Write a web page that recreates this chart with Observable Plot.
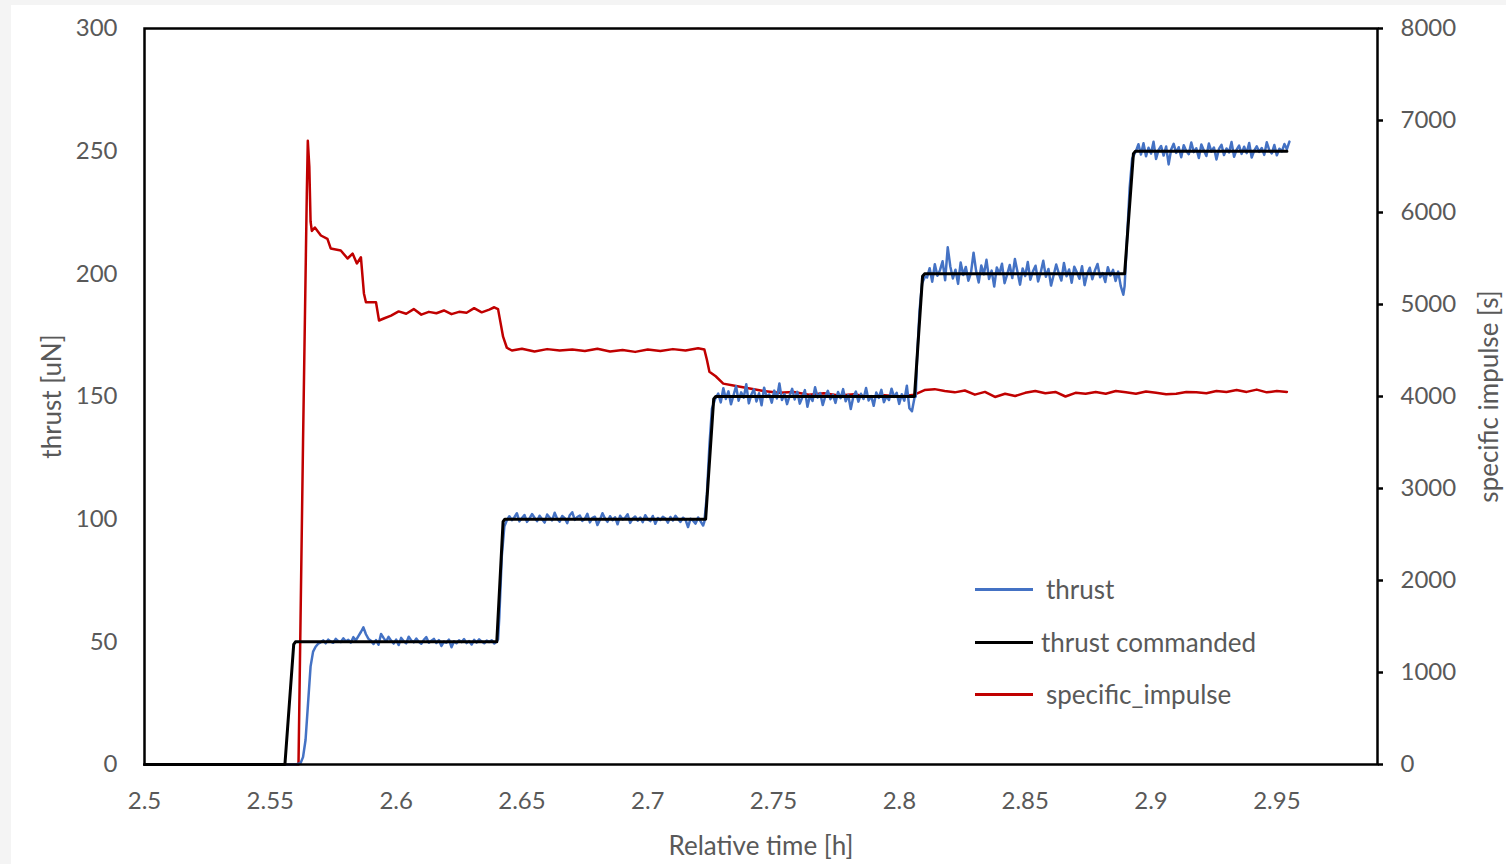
<!DOCTYPE html>
<html>
<head>
<meta charset="utf-8">
<script src="https://cdn.jsdelivr.net/npm/d3@7"></script>
<script src="https://cdn.jsdelivr.net/npm/@observablehq/plot@0.6"></script>
<style>
  html, body { margin: 0; padding: 0; background: #f4f4f4; width: 1506px; height: 864px; overflow: hidden; }
  #card { position: absolute; left: 11px; top: 5px; width: 1495px; height: 859px; background: #fff; }
  #legend { position: absolute; left: 0; top: 0; font-family: Lato, "Open Sans", sans-serif; font-size: 26px; color: #595959; }
  .item { position: absolute; display: flex; align-items: center; white-space: nowrap; }
  .item .sw { width: 58px; height: 3px; flex: none; }
</style>
</head>
<body>
<div id="card"></div>
<script>
// ---------- data ----------
const xTicks = [2.5, 2.55, 2.6, 2.65, 2.7, 2.75, 2.8, 2.85, 2.9, 2.95];
const yTicksLeft = [0, 50, 100, 150, 200, 250, 300];
const yTicksRight = [0, 1000, 2000, 3000, 4000, 5000, 6000, 7000, 8000];
const seriesNames = ["thrust", "thrust commanded", "specific_impulse"];
const seriesColors = ["#4472c4", "#000000", "#c00000"];

// thrust commanded (step profile)
const commandT = [2.5, 2.5558, 2.5593, 2.5600, 2.6400, 2.6425, 2.6432, 2.7230, 2.7262, 2.7270, 2.8060, 2.8092, 2.8100, 2.8895, 2.8930, 2.8938, 2.954];
const commandV = [0, 0, 49, 50, 50, 99, 100, 100, 149, 150, 150, 199, 200, 200, 249, 250, 250];

// measured thrust: ramps (explicit times)
const thrustRampT = [2.5, 2.560, 2.562, 2.563, 2.564, 2.565, 2.566, 2.567,
  2.6405, 2.641, 2.642, 2.643, 2.644,
  2.7225, 2.7235, 2.7245, 2.7255, 2.7268,
  2.8065, 2.807, 2.808, 2.809, 2.8102,
  2.8895, 2.8905, 2.8915, 2.8925, 2.894];
const thrustRampV = [0, 0, 0.5, 3, 10, 25, 40, 46,
  51, 60, 85, 97, 99.5,
  99, 110, 130, 145, 149,
  150, 165, 185, 196, 199,
  195, 215, 235, 247, 250];
// measured thrust: plateaus, evenly sampled between start and end time
const plateauStart = [2.568, 2.645, 2.728, 2.811, 2.895];
const plateauEnd = [2.640, 2.722, 2.806, 2.889, 2.955];
const thrustP1 = [48.0, 49.2, 49.8, 50.6, 49.4, 50.9, 50.1, 49.6, 51.2, 50.3, 49.9, 51.4, 50.2, 50.8, 49.7, 51.9, 50.6, 52.3, 54.0, 55.9, 53.1, 51.2, 50.4, 49.1, 50.7, 48.8, 53.2, 51.6, 50.1, 52.0, 50.5, 49.3, 50.9, 48.7, 51.6, 50.2, 49.4, 52.1, 50.6, 49.8, 51.3, 50.0, 49.2, 50.8, 51.9, 49.6, 50.4, 51.2, 49.5, 50.7, 48.3, 50.1, 49.6, 50.9, 47.8, 50.2, 49.4, 50.6, 49.9, 51.1, 49.5, 50.3, 48.9, 50.8, 49.7, 51.0, 50.1, 49.4, 50.5, 49.9, 50.6, 49.3, 50.2];
const thrustP2 = [101.2, 99.6, 100.8, 102.4, 99.1, 100.5, 101.7, 98.9, 100.3, 102.1, 100.6, 99.2, 101.4, 100.0, 98.6, 101.9, 100.7, 99.5, 102.6, 100.2, 99.0, 101.3, 100.4, 98.4, 101.6, 102.8, 99.7, 100.9, 101.5, 99.3, 100.1, 102.2, 98.7, 100.5, 101.0, 97.6, 99.8, 102.4, 100.3, 98.9, 101.2, 99.6, 100.8, 97.9, 101.4, 99.9, 100.6, 102.0, 98.5, 100.2, 101.1, 99.4, 100.7, 98.8, 101.6, 100.0, 99.2, 101.3, 98.1, 100.5, 99.7, 101.0, 100.3, 98.6, 100.9, 99.5, 101.4, 100.1, 98.9, 100.6, 99.8, 96.8, 100.2, 99.4, 98.2, 100.7, 99.1, 97.4];
const thrustP3 = [151.2, 147.6, 153.4, 149.0, 152.1, 146.8, 150.5, 154.2, 148.3, 151.7, 149.5, 155.0, 147.2, 150.8, 152.9, 148.0, 151.3, 146.4, 153.6, 149.8, 150.9, 147.5, 152.4, 149.2, 155.3, 148.6, 151.0, 146.9, 150.3, 153.1, 148.8, 151.9, 147.1, 149.7, 152.6, 145.8, 150.4, 148.2, 153.8, 149.6, 151.4, 146.5, 150.0, 152.3, 148.9, 150.7, 147.4, 151.8, 149.3, 153.0, 148.1, 150.6, 144.9, 149.9, 152.0, 147.9, 151.1, 149.0, 153.5, 148.4, 150.2, 146.2, 151.6, 149.4, 152.7, 147.7, 150.1, 148.6, 153.2, 149.8, 151.5, 147.0, 150.9, 148.3, 154.4, 145.2, 144.0, 149.5];
const thrustP4 = [198.5, 202.3, 196.8, 203.9, 199.2, 201.5, 205.1, 197.4, 210.8, 203.0, 198.1, 201.7, 195.9, 204.6, 199.5, 202.8, 197.2, 200.4, 208.6, 201.1, 196.5, 203.4, 199.8, 205.7, 197.9, 201.3, 194.8, 202.6, 200.0, 204.1, 196.2, 199.7, 203.6, 198.3, 206.0, 200.8, 195.6, 202.2, 199.1, 204.8, 197.6, 201.0, 203.3, 196.9, 200.5, 205.3, 198.8, 202.0, 195.2, 199.4, 203.8, 200.2, 197.3, 204.4, 199.0, 201.8, 196.4, 202.9, 200.6, 198.0, 203.1, 195.4, 199.9, 202.5, 197.8, 201.4, 204.0, 198.6, 200.3, 196.7, 202.7, 199.3, 201.6, 197.1, 200.9, 195.0, 191.5];
const thrustP5 = [252.8, 248.6, 253.2, 247.9, 251.4, 249.0, 253.8, 246.8, 250.5, 252.1, 248.2, 251.9, 244.6, 250.7, 253.0, 249.3, 251.6, 247.5, 252.4, 250.1, 248.8, 253.5, 249.6, 251.2, 247.2, 252.7, 250.3, 248.0, 253.1, 249.8, 251.5, 246.6, 250.9, 252.6, 248.4, 251.1, 249.5, 253.7, 247.7, 250.6, 252.3, 248.9, 251.8, 249.2, 253.3, 247.4, 250.2, 252.0, 249.7, 251.3, 248.5, 253.6, 250.4, 249.1, 252.5, 248.3, 251.0, 249.9, 252.9, 250.8, 253.9];

// specific impulse
const ispT = [2.5, 2.5612, 2.5630, 2.5645, 2.5649, 2.5655, 2.5660, 2.5665,
  2.5677, 2.5701, 2.5727, 2.5740, 2.5780, 2.5807, 2.5827, 2.5844, 2.5860, 2.5872, 2.5880, 2.5920, 2.5932, 2.5951,
  2.598, 2.601, 2.604, 2.607, 2.610, 2.613, 2.616, 2.619, 2.622, 2.625, 2.628, 2.631, 2.634, 2.637, 2.639, 2.6405, 2.6415, 2.6425, 2.644, 2.646,
  2.650, 2.655, 2.660, 2.665, 2.670, 2.675, 2.680, 2.685, 2.690, 2.695, 2.700, 2.705, 2.710, 2.715, 2.720, 2.7225, 2.7235, 2.7245, 2.727, 2.730, 2.734, 2.740, 2.746, 2.752, 2.758, 2.764, 2.770, 2.776, 2.782, 2.788, 2.794, 2.800, 2.806,
  2.810, 2.814, 2.818, 2.822, 2.826, 2.830, 2.834, 2.838, 2.842, 2.846, 2.850, 2.854, 2.858, 2.862, 2.866, 2.870, 2.874, 2.878, 2.882, 2.886, 2.890, 2.894, 2.898, 2.902, 2.906, 2.910, 2.914, 2.918, 2.922, 2.926, 2.930, 2.934, 2.938, 2.942, 2.946, 2.950, 2.954];
const ispV = [0, 0, 3500, 6200, 6780, 6500, 5900, 5800,
  5837, 5750, 5714, 5609, 5587, 5500, 5554, 5446, 5514, 5120, 5025, 5025, 4826, 4848,
  4880, 4925, 4900, 4950, 4890, 4920, 4905, 4935, 4895, 4920, 4910, 4960, 4915, 4945, 4970, 4950, 4800, 4650, 4530, 4500,
  4520, 4490, 4515, 4500, 4510, 4495, 4520, 4490, 4505, 4485, 4510, 4495, 4515, 4500, 4525, 4510, 4400, 4270, 4220, 4140, 4120, 4090, 4060, 4040, 4050, 4020, 4035, 4010, 4025, 3995, 4015, 4000, 4020,
  4070, 4080, 4060, 4045, 4065, 4020, 4050, 3995, 4030, 4005, 4040, 4060, 4035, 4050, 4000, 4040, 4030, 4050, 4030, 4060, 4045, 4030, 4055, 4040, 4025, 4030, 4050, 4045, 4035, 4060, 4050, 4070, 4050, 4075, 4045, 4060, 4050];

// ---------- build tables ----------
const ispToY = d3.scaleLinear([0, 8000], [0, 300]);
const plateaus = [thrustP1, thrustP2, thrustP3, thrustP4, thrustP5];
const thrustData = thrustRampT.map((t, i) => ({t, v: thrustRampV[i]}));
plateaus.forEach((vals, k) => {
  const s = plateauStart[k], e = plateauEnd[k], n = vals.length;
  vals.forEach((v, i) => thrustData.push({t: s + (e - s) * i / (n - 1), v}));
});
thrustData.sort((a, b) => a.t - b.t);
const commandData = commandT.map((t, i) => ({t, v: commandV[i]}));
const ispData = ispT.map((t, i) => ({t, v: ispToY(ispV[i])}));

const font = "Lato, 'Open Sans', sans-serif";
const grey = "#595959";
const chart = Plot.plot({
  width: 1495,
  height: 859,
  marginLeft: 133,
  marginTop: 23,
  marginRight: 129,
  marginBottom: 100,
  style: {fontFamily: font, fontSize: "24px", color: grey, background: "transparent"},
  x: {domain: [2.5, 2.99]},
  y: {domain: [0, 300]},
  marks: [
    Plot.line(ispData, {x: "t", y: "v", stroke: seriesColors[2], strokeWidth: 2.5}),
    Plot.line(thrustData, {x: "t", y: "v", stroke: seriesColors[0], strokeWidth: 2.5}),
    Plot.line(commandData, {x: "t", y: "v", stroke: seriesColors[1], strokeWidth: 3}),
    Plot.frame({stroke: "black", strokeWidth: 2.5}),
    Plot.axisX({ticks: xTicks, tickSize: 0, tickPadding: 27, tickFormat: d => String(d), label: null, fontSize: 24}),
    Plot.axisY({ticks: yTicksLeft, tickSize: 0, tickPadding: 27, tickFormat: d => String(d), label: null, fontSize: 24}),
    Plot.axisY({anchor: "right", ticks: yTicksRight.map(v => ispToY(v)), tickSize: 5, tickPadding: 18,
      stroke: "black", strokeWidth: 2.5, fill: grey, fontSize: 24,
      tickFormat: d => String(Math.round(ispToY.invert(d))), label: null}),
    Plot.text(["Relative time [h]"], {frameAnchor: "bottom", dy: 82, textAnchor: "middle", lineAnchor: "middle", fontSize: 26, fill: grey}),
    Plot.text(["thrust [uN]"], {frameAnchor: "left", dx: -92, rotate: -90, textAnchor: "middle", lineAnchor: "middle", fontSize: 26, fill: grey}),
    Plot.text(["specific impulse [s]"], {frameAnchor: "right", dx: 112, rotate: -90, textAnchor: "middle", lineAnchor: "middle", fontSize: 26, fill: grey})
  ]
});
document.getElementById("card").appendChild(chart);

// legend
const legend = document.createElement("div");
legend.id = "legend";
const legendY = [584, 637, 689];
const legendTextX = [1035, 1030, 1035];
seriesNames.forEach((name, i) => {
  const item = document.createElement("div");
  item.className = "item";
  item.style.left = "964px";
  item.style.top = (legendY[i] - 20) + "px";
  item.style.height = "40px";
  const sw = document.createElement("div");
  sw.className = "sw";
  sw.style.background = seriesColors[i];
  const tx = document.createElement("span");
  tx.textContent = name;
  tx.style.marginLeft = (legendTextX[i] - 964 - 58) + "px";
  item.appendChild(sw);
  item.appendChild(tx);
  legend.appendChild(item);
});
document.getElementById("card").appendChild(legend);
</script>
</body>
</html>
